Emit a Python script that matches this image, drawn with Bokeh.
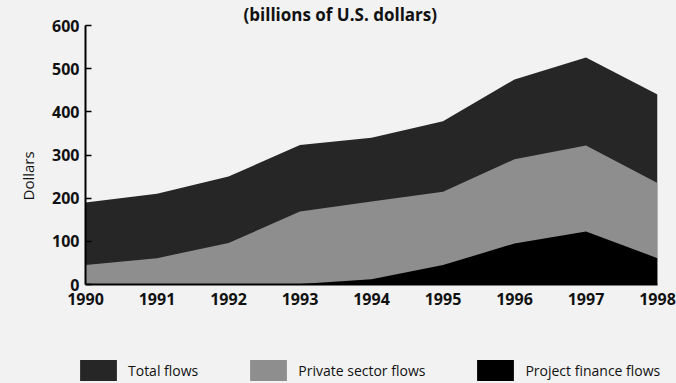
from bokeh.plotting import figure
from bokeh.layouts import column
from bokeh.models import ColumnDataSource, Legend, LegendItem, FixedTicker, Range1d, Title
from bokeh.embed import file_html
from bokeh.resources import INLINE

# Capital flows to developing countries, billions of U.S. dollars
years = [1990, 1991, 1992, 1993, 1994, 1995, 1996, 1997, 1998]
total_flows = [190, 210, 250, 323, 340, 378, 475, 526, 440]
private_flows = [45, 61, 96, 169, 192, 215, 290, 322, 235]
project_finance = [0, 0, 0, 1, 12, 45, 95, 123, 61]

series_names = ["Total flows", "Private sector flows", "Project finance flows"]
series_colors = ["#262626", "#8e8e8e", "#000000"]

source = ColumnDataSource(dict(
    year=years, total=total_flows, private=private_flows, project=project_finance,
    zero=[0] * len(years),
))

BG = "#f2f2f2"
FONT = "Open Sans"
INK = "#111111"

p = figure(
    width=676, height=340, output_backend="svg", toolbar_location=None,
    x_range=Range1d(1990, 1998), y_range=Range1d(0, 600),
    min_border_left=85, min_border_right=19, min_border_top=20, min_border_bottom=56,
    background_fill_color=BG, border_fill_color=BG, outline_line_color=None,
)
p.frame_align = False
p.grid.visible = False

# Subtitle above the plot area
p.title.text = "(billions of U.S. dollars)"
p.title.align = "left"
p.title.offset = 158
p.title.standoff = 0
p.title.text_font = FONT
p.title.text_font_style = "bold"
p.title.text_font_size = "17px"
p.title.text_color = INK

# Overlapping areas, largest first
p.varea(x="year", y1="zero", y2="total", source=source, fill_color=series_colors[0])
p.varea(x="year", y1="zero", y2="private", source=source, fill_color=series_colors[1])
p.varea(x="year", y1="zero", y2="project", source=source, fill_color=series_colors[2])

# Y axis
ya = p.yaxis[0]
ya.ticker = FixedTicker(ticks=[0, 100, 200, 300, 400, 500, 600])
ya.axis_line_color = "black"
ya.axis_line_width = 2
ya.major_tick_in = 6
ya.major_tick_out = 0
ya.major_tick_line_width = 1.5
ya.minor_tick_line_color = None
ya.major_label_standoff = 6
ya.major_label_text_font = FONT
ya.major_label_text_font_style = "bold"
ya.major_label_text_font_size = "16px"
ya.major_label_text_color = INK

# Y axis caption, set a little below the axis middle
p.add_layout(Title(
    text="Dollars", align="left", offset=84, standoff=24,
    text_font=FONT, text_font_style="normal", text_font_size="15px", text_color=INK,
), "left")

# X axis
xa = p.xaxis[0]
xa.ticker = FixedTicker(ticks=years)
xa.axis_line_color = "black"
xa.axis_line_width = 2
xa.major_tick_in = 0
xa.major_tick_out = 0
xa.minor_tick_line_color = None
xa.major_label_standoff = 8
xa.major_label_text_font = FONT
xa.major_label_text_font_style = "bold"
xa.major_label_text_font_size = "16px"
xa.major_label_text_color = INK

# Legend strip underneath the chart; flat zero-height areas serve as legend keys
leg = figure(
    width=676, height=43, output_backend="svg", toolbar_location=None,
    x_axis_type=None, y_axis_type=None, min_border=0,
    background_fill_color=BG, border_fill_color=BG, outline_line_color=None,
)
leg.frame_align = False
leg.grid.visible = False
keys = [leg.varea(x=[0, 1], y1=[0, 0], y2=[0, 0], fill_color=c) for c in series_colors]
legend = Legend(
    items=[LegendItem(label=n, renderers=[r]) for n, r in zip(series_names, keys)],
    orientation="horizontal", location=(75, 0),
    glyph_width=46, glyph_height=26, label_standoff=7, spacing=47,
    padding=0, margin=0, border_line_color=None, background_fill_alpha=0,
    label_text_font=FONT, label_text_font_size="14px", label_text_color=INK,
    label_height=26,
)
leg.add_layout(legend, "center")

layout = column(p, leg, spacing=0, styles={"background-color": BG})
open("out.html", "w").write(file_html(layout, INLINE))
